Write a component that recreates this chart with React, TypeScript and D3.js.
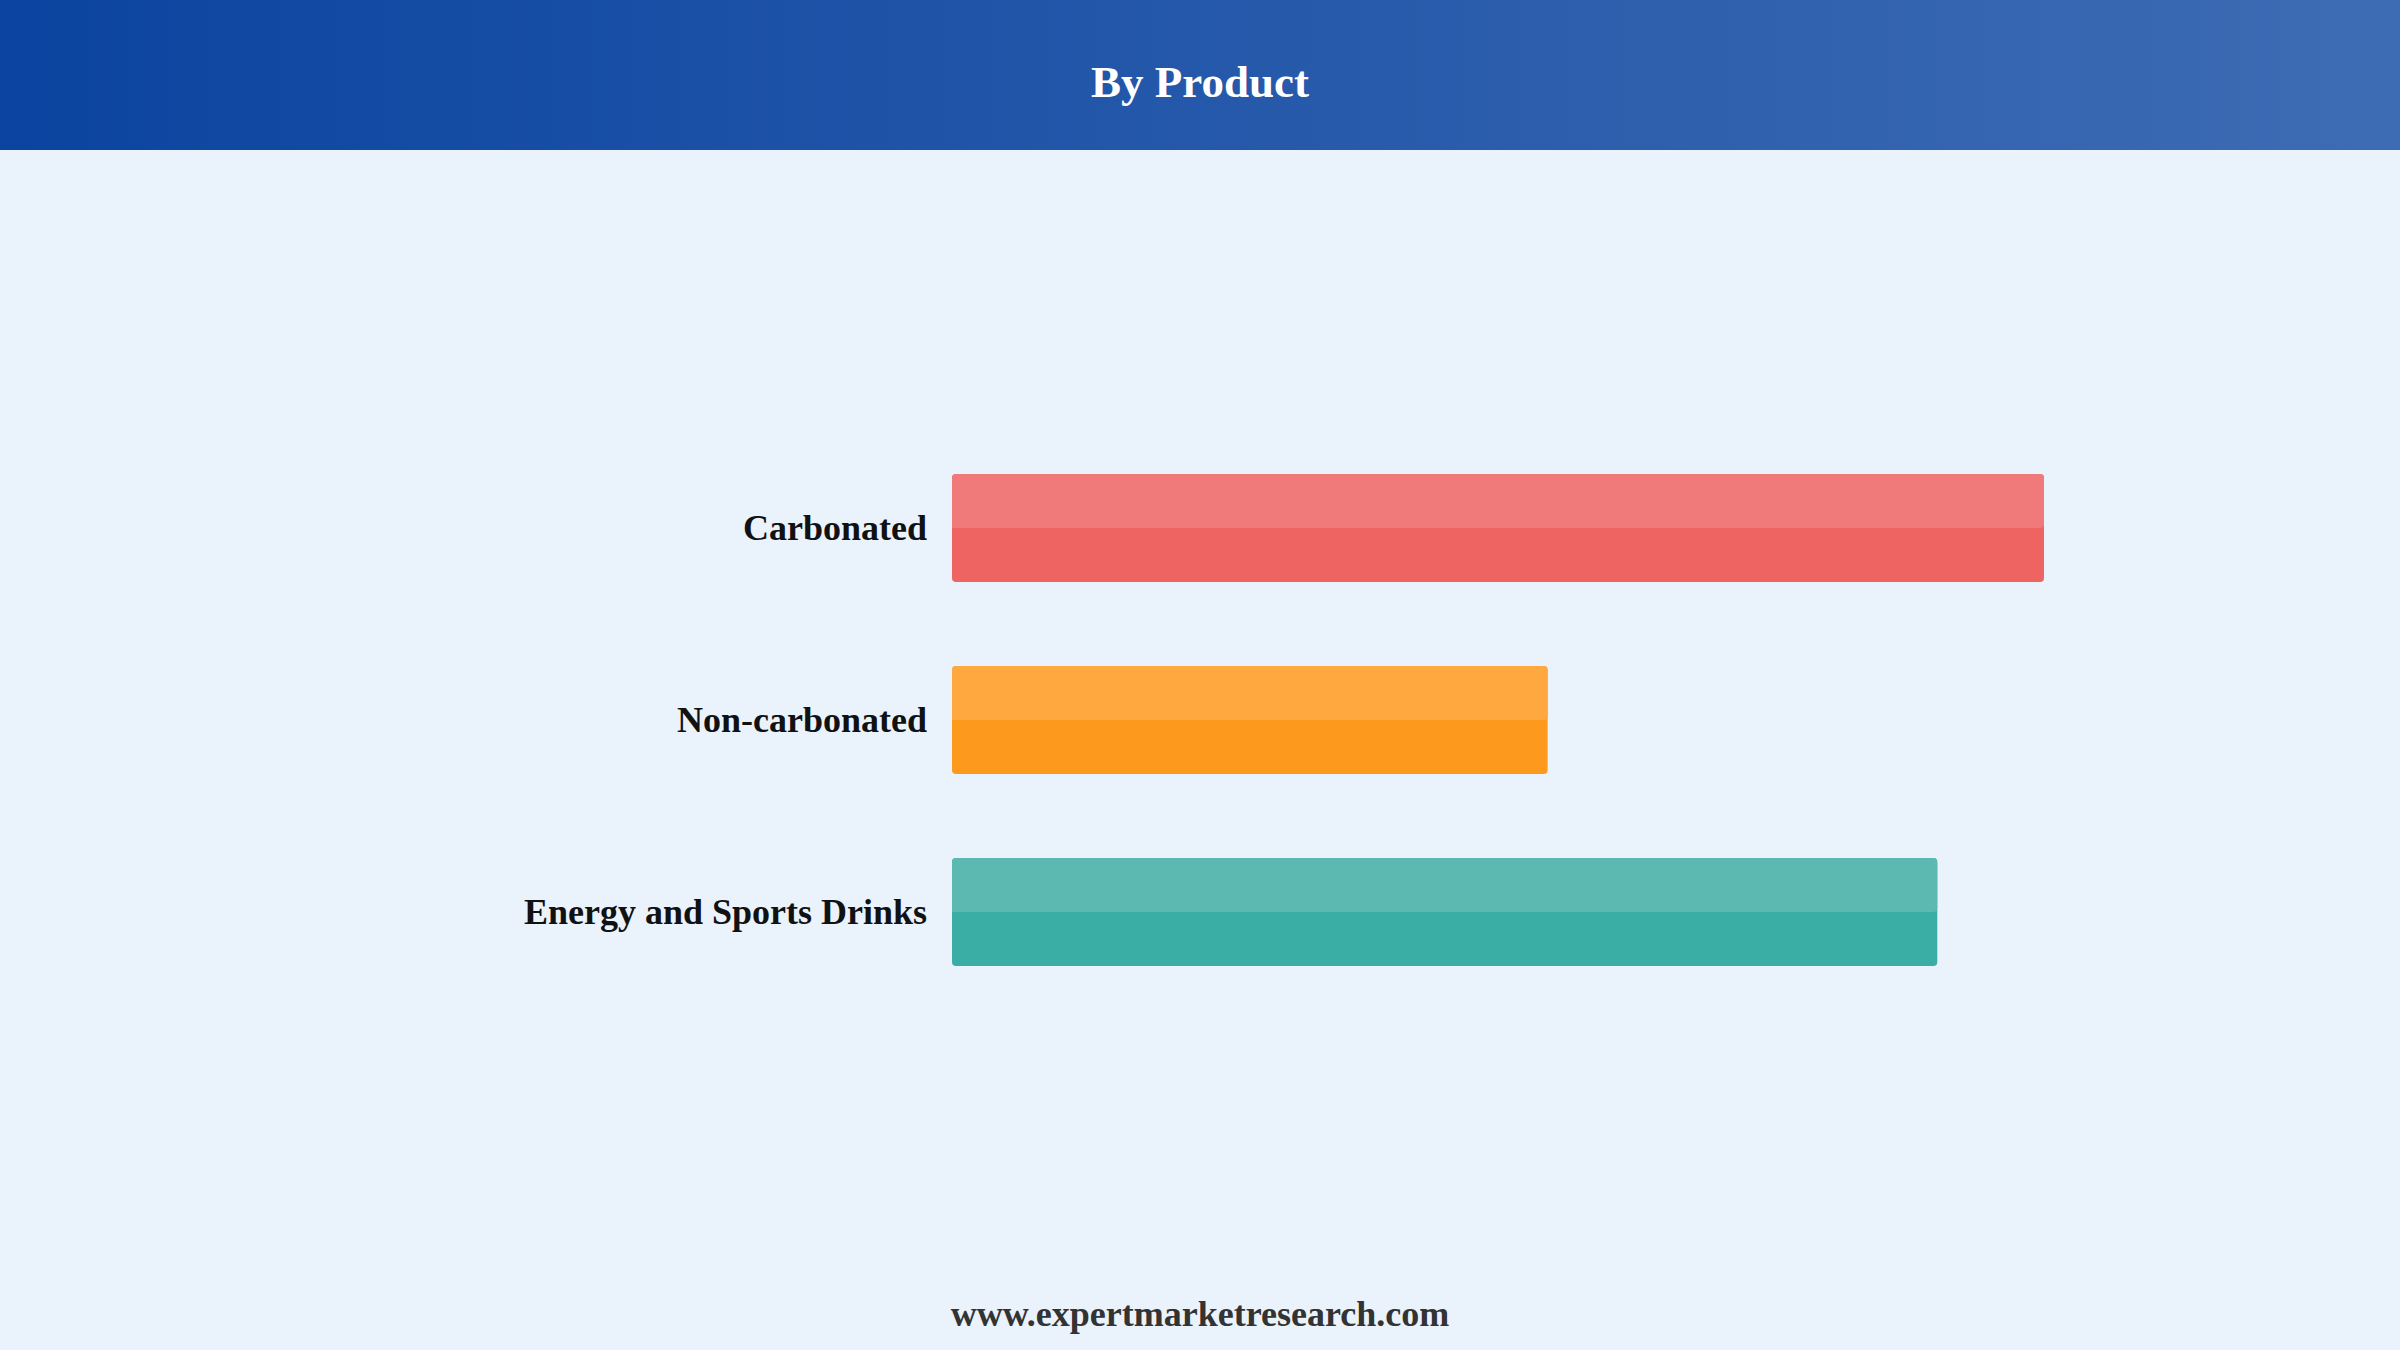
import React from "react";
import * as d3 from "d3";

const categories = ["Carbonated", "Non-carbonated", "Energy and Sports Drinks"];
const values = [44, 24, 39.7];
const baseColors = ["#EE6462", "#FD9A1D", "#3AAEA5"];
const topColors = ["#F07A79", "#FFA840", "#5BB9B1"];
const title = "By Product";
const footer = "www.expertmarketresearch.com";

const W = 2400;
const H = 1350;

export default function App() {
  const x = d3.scaleLinear().domain([0, 44]).range([952, 2044]);
  const y = d3
    .scaleBand<string>()
    .domain(categories)
    .range([378, 1062])
    .paddingInner(0.4375)
    .paddingOuter(0.5);
  const bw = y.bandwidth();
  const font = "'Liberation Serif', 'Times New Roman', serif";

  return (
    <svg
      width={W}
      height={H}
      viewBox={`0 0 ${W} ${H}`}
      style={{ position: "absolute", left: 0, top: 0, display: "block" }}
    >
      <defs>
        <linearGradient id="hdr" x1="0" x2="1" y1="0" y2="0">
          <stop offset="0%" stopColor="#0B44A0" />
          <stop offset="100%" stopColor="#3E6CB4" />
        </linearGradient>
      </defs>
      <rect x={0} y={0} width={W} height={H} fill="#EAF2FC" />
      <rect x={0} y={0} width={W} height={150} fill="url(#hdr)" />
      <text
        x={W / 2}
        y={97}
        textAnchor="middle"
        fill="#FFFFFF"
        fontFamily={font}
        fontWeight="bold"
        fontSize={45}
      >
        {title}
      </text>
      {categories.map((c, i) => {
        const y0 = y(c) as number;
        const x0 = x(0);
        const w = x(values[i]) - x0;
        return (
          <g key={c}>
            <rect x={x0} y={y0} width={w} height={bw} rx={4} ry={4} fill={baseColors[i]} />
            <rect x={x0} y={y0} width={w} height={bw / 2} rx={4} ry={4} fill={topColors[i]} />
            <rect x={x0} y={y0 + bw / 2 - 6} width={w - 4} height={6} fill={topColors[i]} />
            <text
              x={927}
              y={y0 + bw / 2}
              dy="0.34em"
              textAnchor="end"
              fill="#111111"
              fontFamily={font}
              fontWeight="bold"
              fontSize={36}
            >
              {c}
            </text>
          </g>
        );
      })}
      <text
        x={W / 2}
        y={1326}
        textAnchor="middle"
        fill="#333333"
        fontFamily={font}
        fontWeight="bold"
        fontSize={36}
      >
        {footer}
      </text>
    </svg>
  );
}
